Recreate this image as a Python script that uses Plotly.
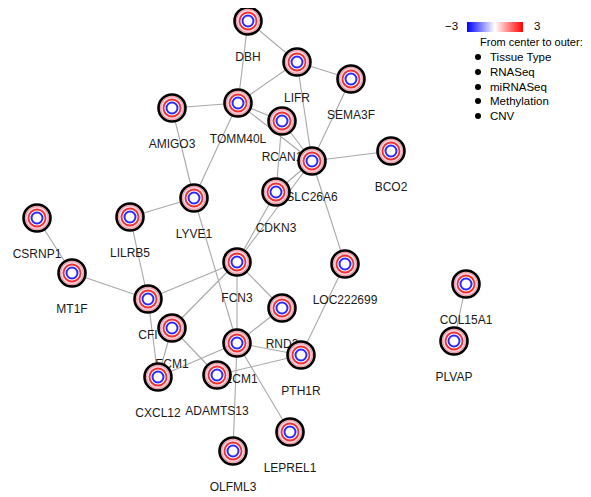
import plotly.graph_objects as go

# Node names and layout positions (pixel-like layout coordinates)
node_names = ["DBH", "LIFR", "SEMA3F", "TOMM40L", "AMIGO3", "RCAN1", "BCO2",
              "SLC26A6", "CDKN3", "LYVE1", "LILRB5", "CSRNP1", "FCN3",
              "LOC222699", "MT1F", "CFI", "COL15A1", "RND3", "ECM1", "PECM1",
              "PLVAP", "PTH1R", "CXCL12", "ADAMTS13", "LEPREL1", "OLFML3"]
node_x = [248, 297, 351, 238, 172, 282, 391, 312, 276, 194, 130, 37, 237,
          345, 72, 148, 466, 282, 172, 237, 454, 301, 158, 217, 290, 233]
node_y = [21, 62, 79, 103, 108, 121, 151, 161, 192, 198, 217, 218, 262,
          264, 273, 299, 284, 308, 328, 343, 341, 355, 377, 375, 432, 451]

edge_from = ["DBH", "DBH", "LIFR", "LIFR", "LIFR", "SEMA3F", "TOMM40L", "TOMM40L",
             "RCAN1", "RCAN1", "SLC26A6", "SLC26A6", "SLC26A6", "SLC26A6", "CDKN3",
             "TOMM40L", "AMIGO3", "AMIGO3", "LYVE1", "LILRB5", "LILRB5", "CFI",
             "CSRNP1", "MT1F", "CFI", "FCN3", "FCN3", "FCN3", "RND3", "PECM1",
             "PECM1", "PECM1", "PECM1", "ECM1", "ECM1", "ADAMTS13", "PTH1R", "COL15A1"]
edge_to = ["TOMM40L", "LIFR", "TOMM40L", "SEMA3F", "SLC26A6", "SLC26A6", "RCAN1", "SLC26A6",
           "SLC26A6", "CDKN3", "BCO2", "LOC222699", "CDKN3", "FCN3", "FCN3",
           "LYVE1", "TOMM40L", "LYVE1", "PECM1", "LYVE1", "CFI", "CXCL12",
           "MT1F", "CFI", "FCN3", "ECM1", "PECM1", "RND3", "PECM1", "PTH1R",
           "CXCL12", "OLFML3", "LEPREL1", "CXCL12", "ADAMTS13", "PTH1R", "LOC222699", "PLVAP"]

legend_items = ["Tissue Type", "RNASeq", "miRNASeq", "Methylation", "CNV"]
cbar_min, cbar_max = -3, 3

# page has an 8px body margin: figure covers screen pixels 8..591 x 8..497
OFF = 8
W, H = 591 - OFF, 497 - OFF

pos = {n: (x, y) for n, x, y in zip(node_names, node_x, node_y)}

ex, ey = [], []
for a, b in zip(edge_from, edge_to):
    ex += [pos[a][0], pos[b][0], None]
    ey += [pos[a][1], pos[b][1], None]

FONT = "Liberation Sans, Arial"
fig = go.Figure()
fig.add_trace(go.Scatter(x=ex, y=ey, mode="lines",
                         line=dict(color="#a8a8a8", width=1.1),
                         hoverinfo="skip", showlegend=False))

LABEL_OFFSET = 37
fig.add_trace(go.Scatter(x=node_x, y=[y + LABEL_OFFSET for y in node_y],
                         mode="text", text=node_names,
                         textfont=dict(family=FONT, size=12, color="#1a1a1a"),
                         hoverinfo="skip", showlegend=False))

# concentric rings for each node
layers = [
    dict(size=27, color="#f8d6de", line=dict(color="black", width=2.6)),
    dict(size=23, color="rgba(0,0,0,0)", line=dict(color="rgba(235,50,70,0.45)", width=1)),
    dict(size=20, color="#eee0f2", line=dict(color="rgba(0,0,0,0)", width=0)),
    dict(size=17, color="white", line=dict(color="#f03030", width=1.8)),
    dict(size=11, color="white", line=dict(color="#2a2aff", width=2)),
]
for lay in layers:
    fig.add_trace(go.Scatter(x=node_x, y=node_y, mode="markers",
                             marker=dict(symbol="circle", **lay),
                             hoverinfo="skip", showlegend=False))

# colorbar (blue-white-red)
fig.add_trace(go.Scatter(x=[-1000], y=[-1000], mode="markers",
                         marker=dict(color=[0], cmin=cbar_min, cmax=cbar_max,
                                     colorscale=[[0, "#0000ff"], [0.5, "#ffffff"], [1, "#ff0000"]],
                                     showscale=True,
                                     colorbar=dict(orientation="h", x=(467 - OFF) / W, xanchor="left",
                                                   y=1 - (27 - OFF) / H, yanchor="middle",
                                                   len=56, lenmode="pixels", thickness=10,
                                                   thicknessmode="pixels",
                                                   xpad=0, ypad=0, outlinewidth=0,
                                                   showticklabels=False, ticks="")),
                         hoverinfo="skip", showlegend=False))

annotations = [
    dict(x=451, y=26, text="\u22123", showarrow=False, xref="x", yref="y",
         font=dict(family=FONT, size=11.5, color="black")),
    dict(x=537, y=26, text="3", showarrow=False, xref="x", yref="y",
         font=dict(family=FONT, size=11.5, color="black")),
    dict(x=478, y=42, text="From center to outer:", showarrow=False, xref="x", yref="y",
         xanchor="left", font=dict(family=FONT, size=11, color="black")),
]
leg_y = [57, 72, 87, 101, 116]
for t, yy in zip(legend_items, leg_y):
    annotations.append(dict(x=488, y=yy, text=t, showarrow=False, xref="x", yref="y",
                            xanchor="left",
                            font=dict(family=FONT, size=11.5, color="black")))
fig.add_trace(go.Scatter(x=[478] * len(leg_y), y=leg_y, mode="markers",
                         marker=dict(color="black", size=6), hoverinfo="skip", showlegend=False))

fig.update_layout(
    width=W, height=H, margin=dict(l=0, r=0, t=0, b=0),
    paper_bgcolor="white", plot_bgcolor="white",
    xaxis=dict(range=[OFF, 591], visible=False, fixedrange=True),
    yaxis=dict(range=[497, OFF], visible=False, fixedrange=True),
    annotations=annotations,
)
fig.write_html("out.html")
